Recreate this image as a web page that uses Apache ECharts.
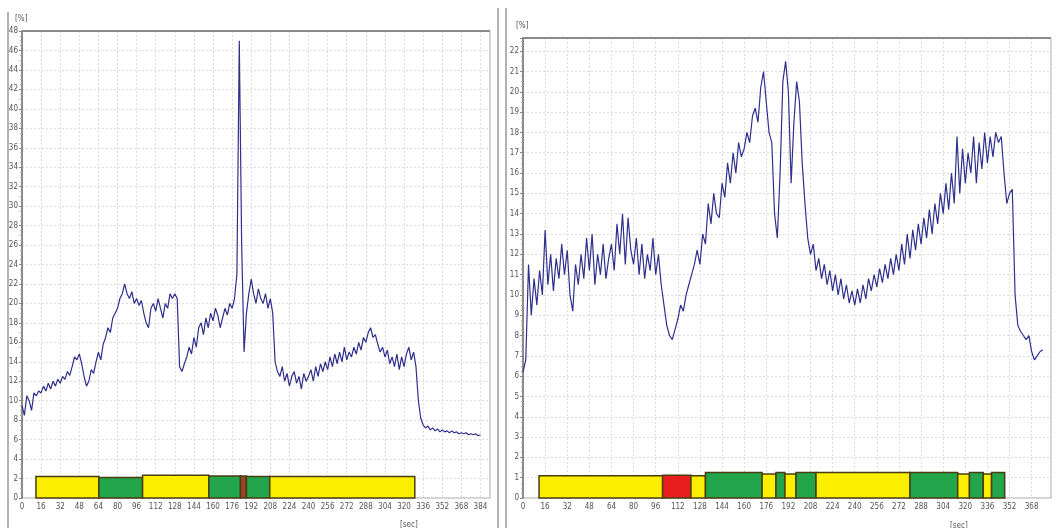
<!DOCTYPE html>
<html><head><meta charset="utf-8">
<script src="https://cdn.jsdelivr.net/npm/echarts@6/dist/echarts.min.js"></script>
<style>html,body{margin:0;padding:0;background:#fff}#c{width:1056px;height:528px}</style>
</head><body><div id="c"></div>
<script>
// ---- data ----
const LEFT_STEP = 2;   // sample spacing along x for the left trace
const leftValues = [
  9.5, 8.5, 10.5, 10, 9, 10.8, 10.5, 11,
  10.8, 11.5, 11, 11.8, 11.2, 12, 11.5, 12.2,
  11.8, 12.5, 12.2, 13, 12.6, 13.5, 14.5, 14.2,
  14.8, 13.8, 12.5, 11.5, 12, 13.2, 12.8, 14,
  15, 14.2, 15.8, 16.5, 17.5, 17, 18.5, 19,
  19.5, 20.5, 21, 22, 21, 20.5, 21.2, 20,
  20.5, 19.8, 20.3, 19, 18, 17.5, 19.5, 20,
  19.2, 20.5, 19.5, 18.5, 20, 19.5, 21, 20.5,
  21, 20.5, 13.5, 13, 13.8, 14.5, 15.5, 14.8,
  16.5, 15.5, 17.5, 18, 16.8, 18.5, 17.5, 19,
  18.2, 19.5, 18.8, 17.5, 18.5, 19.5, 18.8, 20,
  19.5, 20.5, 23, 47, 26, 15, 19, 21,
  22.5, 21, 20, 21.5, 20.5, 20, 21, 19.5,
  20.5, 19, 14, 13, 12.5, 13.5, 12, 12.8,
  11.5, 12.5, 13, 11.8, 12.5, 11.2, 12.8, 12,
  12.5, 13.2, 12, 13.5, 12.5, 13.8, 13, 14,
  13.2, 14.5, 13.5, 14.8, 13.8, 15, 14, 15.5,
  14.2, 15, 14.5, 15.5, 14.8, 16, 15.2, 16.5,
  16, 17, 17.5, 16.5, 16.8, 15.8, 15, 15.5,
  14.5, 15.2, 13.8, 14.5, 13.5, 14.8, 13.2, 14.5,
  13.5, 14.8, 15.5, 14.2, 15, 13.5, 10, 8.2,
  7.5, 7.2, 7.4, 7, 7.2, 6.9, 7.1, 6.8,
  7, 6.8, 6.9, 6.7, 6.9, 6.7, 6.8, 6.6,
  6.7, 6.6, 6.7, 6.5, 6.6, 6.5, 6.6, 6.4,
  6.5
];
const RIGHT_STEP = 2;
const rightValues = [
  6.2, 6.8, 11.5, 9, 10.8, 9.5, 11.2, 10,
  13.2, 10.5, 12, 10.2, 11.8, 10.8, 12.5, 11,
  12.2, 10, 9.2, 11.5, 10.5, 12, 10.8, 12.8,
  11.2, 13, 10.5, 12, 11, 12.5, 10.8, 11.8,
  12.5, 11.2, 13.5, 12, 14, 11.5, 13.8, 12.2,
  11.5, 12.8, 11, 12.5, 10.8, 12, 11.2, 12.8,
  11, 12, 10.5, 9.5, 8.5, 8, 7.8, 8.3,
  8.8, 9.5, 9.2, 10, 10.5, 11, 11.5, 12.2,
  11.5, 13, 12.5, 14.5, 13.5, 15, 14, 13.8,
  15.5, 14.8, 16.5, 15.5, 17, 16, 17.5, 16.8,
  17.2, 18, 17.5, 18.8, 19.2, 18.5, 20.2, 21,
  19.5, 18, 17.5, 14, 12.8, 16, 20.5, 21.5,
  20, 15.5, 18.5, 20.5, 19.5, 16.5, 14.5, 12.8,
  12, 12.5, 11.2, 11.8, 10.8, 11.5, 10.5, 11.2,
  10.2, 11, 10, 10.8, 9.8, 10.5, 9.6, 10.2,
  9.5, 10.3, 9.6, 10.5, 9.8, 10.8, 10.2, 11,
  10.4, 11.3, 10.6, 11.5, 10.8, 11.8, 11, 12,
  11.2, 12.5, 11.5, 13, 11.8, 13.2, 12.2, 13.5,
  12.5, 13.8, 12.8, 14.2, 13, 14.5, 13.5, 15,
  14, 15.5, 14.2, 16, 14.5, 17.8, 15, 17.2,
  15.5, 17, 16, 17.8, 15.5, 17.5, 16.2, 18,
  16.5, 17.8, 16.8, 18, 17.5, 17.8, 16, 14.5,
  15, 15.2, 10, 8.5, 8.2, 8, 7.8, 8,
  7.2, 6.8, 7, 7.2, 7.3
];
// bottom state bars: [start, end, height, colourKey]
const leftBars = [
  [11.7, 64.4, 2.2, 'Y'],
  [64.4, 101, 2.1, 'G'],
  [101, 156.5, 2.35, 'Y'],
  [156.5, 183, 2.25, 'G'],
  [183, 188, 2.25, 'R2'],
  [188, 207.5, 2.2, 'G'],
  [207.5, 329, 2.2, 'Y']
];
const rightBars = [
  [11.6, 101, 1.1, 'Y'],
  [101, 121.5, 1.12, 'R'],
  [121.5, 132, 1.1, 'Y'],
  [132, 173, 1.25, 'G'],
  [173, 183, 1.18, 'Y'],
  [183, 189.5, 1.25, 'G'],
  [189.5, 197.5, 1.18, 'Y'],
  [197.5, 212, 1.25, 'G'],
  [212, 280, 1.25, 'Y'],
  [280, 314.5, 1.25, 'G'],
  [314.5, 323, 1.18, 'Y'],
  [323, 333, 1.25, 'G'],
  [333, 339, 1.18, 'Y'],
  [339, 348.5, 1.25, 'G']
];
const BAR_COLORS = {Y:'#fbee00', G:'#22a54b', R:'#e81e1e', R2:'#a4402a'};

// ---- chart ----
const FONT = "'Liberation Sans Narrow','DejaVu Sans Condensed',sans-serif";
const leftData = leftValues.map((v, i) => [i * LEFT_STEP, v]);
const rightData = rightValues.map((v, i) => [i * RIGHT_STEP, v]);

function barRender(params, api) {
  const s = api.value(0), e = api.value(1), h = api.value(2), k = api.value(3);
  const p0 = api.coord([s, h]);
  const p1 = api.coord([e, 0]);
  return {
    type: 'rect',
    shape: {x: p0[0], y: p0[1], width: p1[0] - p0[0], height: p1[1] - p0[1]},
    style: {fill: BAR_COLORS[k], stroke: '#4a3e10', lineWidth: 1.5}
  };
}
function xAxis(gi, max, name) {
  return {
    type: 'value', gridIndex: gi, min: 0, max: max, interval: 16,
    axisLine: {show: false}, axisTick: {show: false},
    axisLabel: {color: '#555', fontSize: 8, fontFamily: FONT, margin: 5, showMaxLabel: false},
    splitLine: {show: true, lineStyle: {color: '#dcdcdc', type: [2, 2], width: 1}}
  };
}
function yAxis(gi, max, interval) {
  return {
    type: 'value', gridIndex: gi, min: 0, max: max, interval: interval,
    axisLine: {show: true, lineStyle: {color: '#8a8a8a', width: 2}},
    axisTick: {show: true, length: 3, inside: false, lineStyle: {color: '#888'}},
    minorTick: {show: true, splitNumber: 4, length: 2, lineStyle: {color: '#aaa'}},
    axisLabel: {color: '#555', fontSize: 8, fontFamily: FONT, margin: 4, showMaxLabel: max % interval === 0},
    splitLine: {show: true, lineStyle: {color: '#dcdcdc', type: [2, 2], width: 1}}
  };
}
const chart = echarts.init(document.getElementById('c'), null, {renderer: 'canvas'});
chart.setOption({
  animation: false,
  backgroundColor: '#fff',
  grid: [
    {left: 22, top: 31, width: 468, height: 467, show: true, borderColor: '#a8a8a8', borderWidth: 1},
    {left: 523, top: 38, width: 528, height: 460, show: true, borderColor: '#a8a8a8', borderWidth: 1}
  ],
  xAxis: [xAxis(0, 392), xAxis(1, 382)],
  yAxis: [yAxis(0, 48, 2), yAxis(1, 22.65, 1)],
  series: [
    {type: 'custom', xAxisIndex: 0, yAxisIndex: 0, renderItem: barRender, data: leftBars.map(b => [b[0], b[1], b[2], b[3]]), z: 2},
    {type: 'custom', xAxisIndex: 1, yAxisIndex: 1, renderItem: barRender, data: rightBars.map(b => [b[0], b[1], b[2], b[3]]), z: 2},
    {type: 'line', xAxisIndex: 0, yAxisIndex: 0, data: leftData, showSymbol: false, symbol: 'none',
     lineStyle: {color: '#2f2f8c', width: 1.2}, z: 3},
    {type: 'line', xAxisIndex: 1, yAxisIndex: 1, data: rightData, showSymbol: false, symbol: 'none',
     lineStyle: {color: '#2f2f8c', width: 1.2}, z: 3}
  ],
  graphic: [
    {type: 'line', shape: {x1: 8, y1: 12, x2: 8, y2: 528}, style: {stroke: '#9a9a9a', lineWidth: 1.5}},
    {type: 'line', shape: {x1: 498, y1: 8, x2: 498, y2: 528}, style: {stroke: '#9a9a9a', lineWidth: 1.5}},
    {type: 'line', shape: {x1: 506, y1: 8, x2: 506, y2: 528}, style: {stroke: '#9a9a9a', lineWidth: 1.5}},
    {type: 'line', shape: {x1: 22, y1: 31, x2: 490, y2: 31}, style: {stroke: '#8a8a8a', lineWidth: 2}, z: 10},
    {type: 'line', shape: {x1: 523, y1: 38, x2: 1051, y2: 38}, style: {stroke: '#8a8a8a', lineWidth: 2}, z: 10},
    {type: 'text', left: 15, top: 15, style: {text: '[%]', fill: '#555', fontSize: 8, fontFamily: FONT}},
    {type: 'text', left: 516, top: 22, style: {text: '[%]', fill: '#555', fontSize: 8, fontFamily: FONT}},
    {type: 'text', left: 400, top: 521, style: {text: '[sec]', fill: '#555', fontSize: 8, fontFamily: FONT}},
    {type: 'text', left: 950, top: 522, style: {text: '[sec]', fill: '#555', fontSize: 8, fontFamily: FONT}}
  ]
});
</script></body></html>
